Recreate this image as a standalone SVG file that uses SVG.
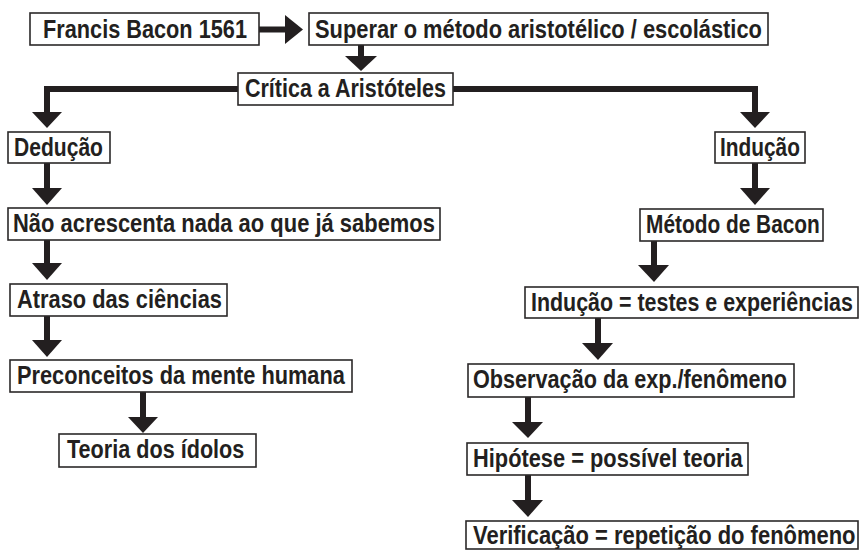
<svg xmlns="http://www.w3.org/2000/svg" width="860" height="550" viewBox="0 0 860 550">
<style>
.box{fill:#fff;stroke:#2b2829;stroke-width:1.6}
.t{font-family:"Liberation Sans",Arial,sans-serif;font-weight:bold;font-size:25px;fill:#231f20}
.c{fill:none;stroke:#231f20;stroke-width:6}
.h{fill:#231f20}
</style>
<rect width="860" height="550" fill="#fff"/>
<g id="connectors">
<path class="c" d="M259,29.5H286"/><polygon class="h" points="285,15 303,29.5 285,44"/>
<path class="c" d="M361,44V57"/><polygon class="h" points="345,56 377,56 361,71"/>
<path class="c" d="M238,89H47V113"/><polygon class="h" points="32,112 62,112 47,128"/>
<path class="c" d="M453,89H755V113"/><polygon class="h" points="740,112 770,112 755,128"/>
<path class="c" d="M47,163V189"/><polygon class="h" points="32,188 62,188 47,205"/>
<path class="c" d="M47,240V264"/><polygon class="h" points="32,263 62,263 47,280"/>
<path class="c" d="M47,316V341"/><polygon class="h" points="32,340 62,340 47,357"/>
<path class="c" d="M143,392V418"/><polygon class="h" points="128,417 158,417 143,433"/>
<path class="c" d="M755,163V189"/><polygon class="h" points="740,188 770,188 755,205"/>
<path class="c" d="M654,241V266"/><polygon class="h" points="638,265 669,265 654,282"/>
<path class="c" d="M598,318V344"/><polygon class="h" points="582,343 613,343 598,360"/>
<path class="c" d="M528,397V423"/><polygon class="h" points="512,422 543,422 528,438"/>
<path class="c" d="M528,475V501"/><polygon class="h" points="512,500 543,500 528,517"/>
</g>
<g id="n-francis"><rect class="box" x="30" y="13" width="229" height="32"/><text class="t" transform="translate(43,37.5) scale(0.869,1)">Francis Bacon 1561</text></g>
<g id="n-superar"><rect class="box" x="309" y="13" width="459" height="32"/><text class="t" transform="translate(315,37.5) scale(0.875,1)">Superar o método aristotélico / escolástico</text></g>
<g id="n-critica"><rect class="box" x="238" y="73" width="215" height="32"/><text class="t" transform="translate(245,97) scale(0.86,1)">Crítica a Aristóteles</text></g>
<g id="n-deducao"><rect class="box" x="8" y="132" width="102" height="31"/><text class="t" transform="translate(14,156) scale(0.843,1)">Dedução</text></g>
<g id="n-inducao"><rect class="box" x="715" y="132" width="90" height="31"/><text class="t" transform="translate(720,156) scale(0.834,1)">Indução</text></g>
<g id="n-nao"><rect class="box" x="8" y="208" width="432" height="32"/><text class="t" transform="translate(13,232) scale(0.878,1)">Não acrescenta nada ao que já sabemos</text></g>
<g id="n-atraso"><rect class="box" x="10" y="284" width="217" height="32"/><text class="t" transform="translate(17,308) scale(0.873,1)">Atraso das ciências</text></g>
<g id="n-preconceitos"><rect class="box" x="10" y="360" width="342" height="32"/><text class="t" transform="translate(17,384) scale(0.871,1)">Preconceitos da mente humana</text></g>
<g id="n-teoria"><rect class="box" x="59" y="434" width="197" height="33"/><text class="t" transform="translate(67,458) scale(0.865,1)">Teoria dos ídolos</text></g>
<g id="n-metodo"><rect class="box" x="640" y="209" width="183" height="32"/><text class="t" transform="translate(646,233) scale(0.835,1)">Método de Bacon</text></g>
<g id="n-testes"><rect class="box" x="525" y="287" width="333" height="31"/><text class="t" transform="translate(531,311) scale(0.857,1)">Indução = testes e experiências</text></g>
<g id="n-observacao"><rect class="box" x="468" y="364" width="326" height="33"/><text class="t" transform="translate(473,388) scale(0.866,1)">Observação da exp./fenômeno</text></g>
<g id="n-hipotese"><rect class="box" x="467" y="443" width="281" height="32"/><text class="t" transform="translate(473,467) scale(0.873,1)">Hipótese = possível teoria</text></g>
<g id="n-verificacao"><rect class="box" x="466" y="521" width="392" height="28"/><text class="t" transform="translate(473,544) scale(0.879,1)">Verificação = repetição do fenômeno</text></g>
</svg>
